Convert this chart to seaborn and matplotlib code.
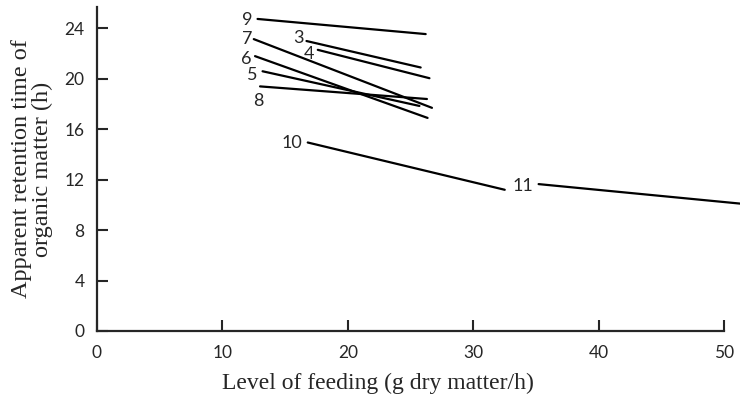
import pandas as pd
import matplotlib
matplotlib.use("Agg")
import matplotlib.pyplot as plt
import seaborn as sns

# Regression lines: number, start/end feeding level and retention time
line_ids = ["9", "3", "4", "7", "6", "5", "8", "10", "11"]
x_start = [12.8, 16.7, 17.6, 12.5, 12.6, 13.2, 13.0, 16.8, 35.2]
x_end = [26.2, 25.8, 26.5, 26.7, 26.35, 25.7, 26.3, 32.5, 51.3]
y_start = [24.75, 23.0, 22.3, 23.15, 21.8, 20.6, 19.4, 14.95, 11.65]
y_end = [23.55, 20.9, 20.05, 17.7, 16.9, 17.85, 18.4, 11.2, 10.1]

x_ticks = [0, 10, 20, 30, 40, 50]
y_ticks = [0, 4, 8, 12, 16, 20, 24]

rows = []
for lid, xa, xb, ya, yb in zip(line_ids, x_start, x_end, y_start, y_end):
    rows.append({"line": lid, "feed": xa, "rt": ya})
    rows.append({"line": lid, "feed": xb, "rt": yb})
df = pd.DataFrame(rows)

sns.set_style("ticks")
plt.rcParams["font.family"] = ["Lato", "DejaVu Sans"]

fig = plt.figure(figsize=(7.4, 4.03), dpi=100)
ax = fig.add_axes([0.131, 0.1787, 0.869, 0.804])

sns.lineplot(data=df, x="feed", y="rt", units="line", estimator=None,
             color="black", linewidth=1.6, ax=ax, legend=False)

# number labels next to the start of each line (offsets in points)
label_offsets = {"9": (-3.4, 0), "3": (-2, 2.9), "4": (-2.2, -2.2),
                 "7": (-1, 1.3), "6": (-2.2, -0.7), "5": (-3.6, -1.7),
                 "8": (-1, -9.5), "10": (-3.6, 0.7), "11": (-3.6, -0.5)}
for lid, xa, ya in zip(line_ids, x_start, y_start):
    ax.annotate(lid, (xa, ya), xytext=label_offsets[lid],
                textcoords="offset points",
                ha="center" if lid == "8" else "right",
                va="center_baseline", fontsize=13)

ax.set_xlim(0, 51.25)
ax.set_ylim(0, 25.7)
ax.set_xticks(x_ticks)
ax.set_yticks(y_ticks)
ax.tick_params(direction="in", length=8, width=1.5, labelsize=12.5)
ax.tick_params(axis="y", pad=9)
ax.tick_params(axis="x", pad=10)
ax.spines["top"].set_visible(False)
ax.spines["right"].set_visible(False)
ax.spines["bottom"].set_bounds(0, 50)
for s in ["left", "bottom"]:
    ax.spines[s].set_linewidth(1.6)

ax.set_xlabel("Level of feeding (g dry matter/h)", family="Liberation Serif",
              fontsize=17)
ax.xaxis.set_label_coords(0.437, -0.13)
ax.set_ylabel("Apparent retention time of\norganic matter (h)",
              family="Liberation Serif", fontsize=17.5, linespacing=1.0)
ax.yaxis.set_label_coords(-0.068, 0.5)

fig.savefig("out.png", dpi=100)
